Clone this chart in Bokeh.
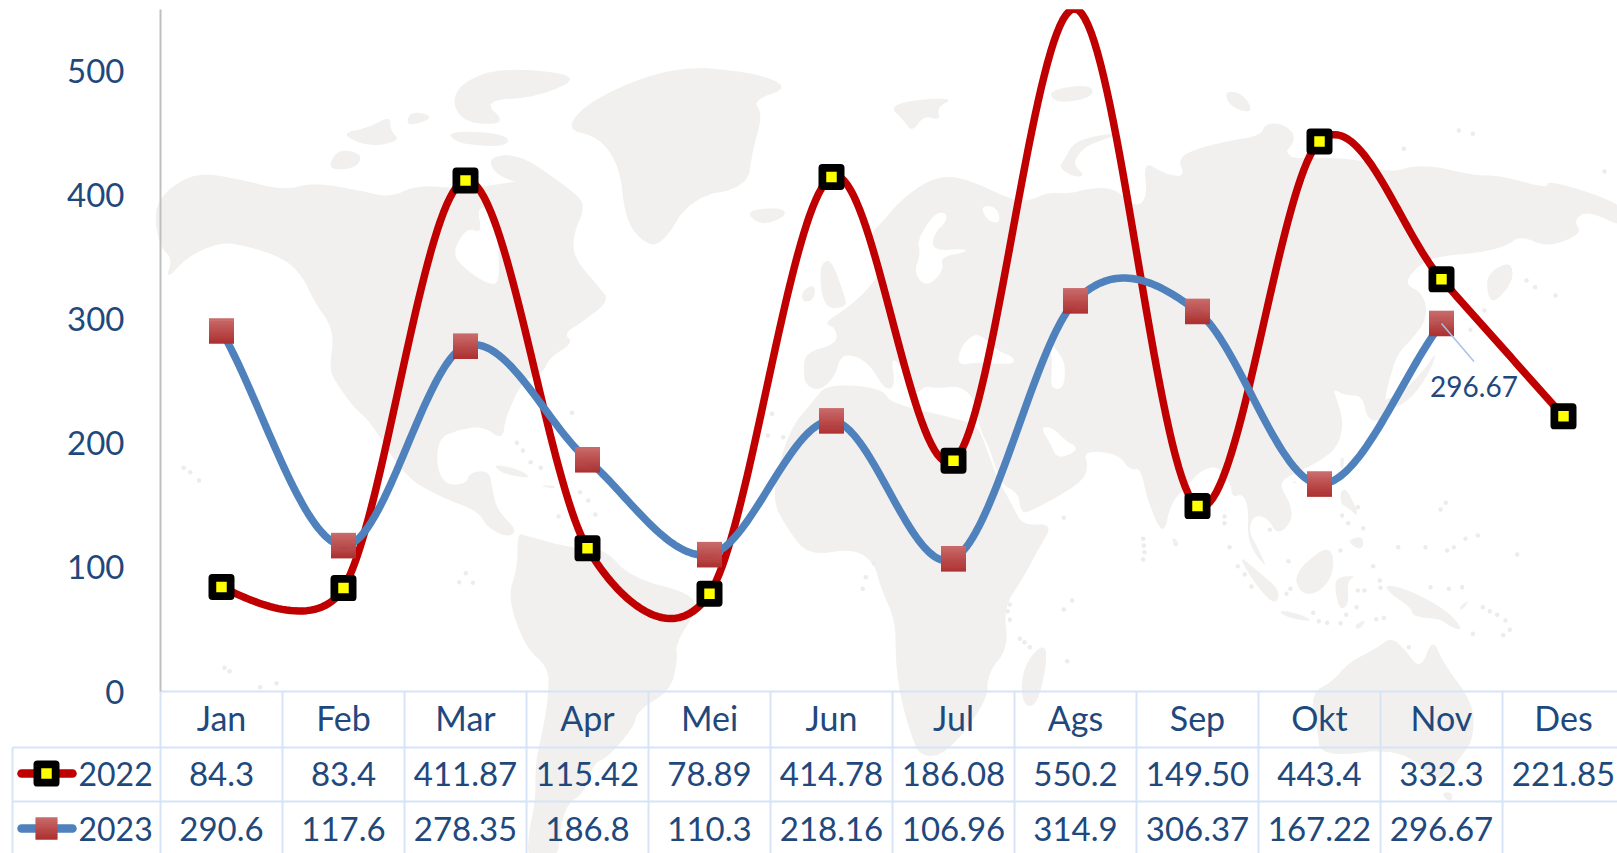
import numpy as np
from bokeh.embed import file_html
from bokeh.resources import INLINE
from bokeh.plotting import figure
from bokeh.core.properties import value
from bokeh.models import Range1d, LinearAxis, FixedTicker

# ---------- data ----------
months = ["Jan", "Feb", "Mar", "Apr", "Mei", "Jun", "Jul", "Ags", "Sep", "Okt", "Nov", "Des"]
values_2022 = [84.3, 83.4, 411.87, 115.42, 78.89, 414.78, 186.08, 550.2, 149.50, 443.4, 332.3, 221.85]
values_2023 = [290.6, 117.6, 278.35, 186.8, 110.3, 218.16, 106.96, 314.9, 306.37, 167.22, 296.67]
labels_2022 = ["84.3", "83.4", "411.87", "115.42", "78.89", "414.78", "186.08", "550.2", "149.50", "443.4", "332.3", "221.85"]
labels_2023 = ["290.6", "117.6", "278.35", "186.8", "110.3", "218.16", "106.96", "314.9", "306.37", "167.22", "296.67"]
y_ticks = [0, 100, 200, 300, 400, 500]
axis_max = 550
callout_index = 10

# ---------- layout ----------
W, H = 1617, 853
X0, COL = 160, 122       # table/plot left edge, column width
Y0, SCALE = 691, 1.2405  # pixel row of value 0, pixels per unit
ROW1, ROW2, ROW_TXT1, ROW_TXT2 = 747, 801, 773, 828
TXT = "#1F497D"
GRID = "#D6E4F5"
LAND = "#F1F0EE"
FONT = "Lato"

p = figure(width=W, height=H, output_backend="svg", toolbar_location=None,
           x_range=Range1d(-X0 / COL, (W - X0) / COL),
           y_range=Range1d((Y0 - H) / SCALE, Y0 / SCALE),
           x_axis_location=None, y_axis_location=None, min_border=0,
           outline_line_color=None, background_fill_color="white", border_fill_color="white")
p.grid.visible = False
p.extra_x_ranges["px"] = Range1d(0, W)
p.extra_y_ranges["py"] = Range1d(H, 0)
PX = dict(x_range_name="px", y_range_name="py")


# ---------- decorative world map (page pixels) ----------
def z(x0, y0, sx, sy, pts):
    return [(x0 + a / sx, y0 + b / sy) for a, b in pts]


def rounded(pts, passes=2):
    # corner cutting, so the coastlines do not look like straight cuts
    pts = np.array(pts, dtype=float)
    for _ in range(passes):
        nxt = np.roll(pts, -1, axis=0)
        pts = np.column_stack([0.75 * pts + 0.25 * nxt, 0.25 * pts + 0.75 * nxt]).reshape(-1, 2)
    return pts


land = [
    # North America
    [(153,213),(165,190),(196,172),(237,178),(283,190),(313,182),(359,190),(390,197),(415,185),(451,187),(477,187),
     (507,182),(548,178),(563,192),(586,203),(573,233),(573,257),(599,287),(609,300),(584,320),(563,333),(573,342),
     (548,358),(543,372),(522,380),(505,417),(502,440),(482,425),(456,430),(438,438),(436,467),(446,485),(466,483),
     (469,472),(489,470),(492,490),(497,510),(517,530),(507,537),(487,527),(477,510),(441,497),(405,477),(369,420),
     (354,408),(334,380),(329,367),(334,330),(313,300),(303,277),(283,257),(237,243),(216,243),(186,257),(165,280),
     (172,258),(160,247)],
    # South America
    [(517,533),(525,535),(573,548),(604,548),(630,577),(691,593),(696,610),(675,643),(677,660),(670,690),(637,710),
     (633,727),(607,757),(593,763),(583,793),(567,803),(560,827),(557,860),(527,860),(528,833),(535,800),(535,760),
     (543,727),(548,693),(548,667),(525,647),(507,597),(517,567)],
    # Africa
    [(813,400),(788,430),(770,497),(788,530),(808,555),(854,548),(874,563),(880,587),(895,620),(895,660),(900,697),
     (910,733),(920,757),(947,753),(987,700),(987,673),(1008,647),(1003,607),(1023,577),(1037,550),(1053,523),
     (1022,525),(1012,505),(997,478),(985,445),(977,425),(956,418),(891,403),(883,390),(860,385),(825,385)],
    # Eurasia
    [(803,370),(805,352),(837,343),(835,327),(823,323),(847,307),(863,293),(880,273),(870,257),(870,233),(883,220),
     (900,200),(927,180),(950,175),(977,183),(1013,200),(1030,200),(1047,192),(1070,193),(1087,188),(1113,187),
     (1135,207),(1147,197),(1143,160),(1163,173),(1185,177),(1177,157),(1200,147),(1230,140),(1260,135),(1265,123),
     (1283,123),(1297,137),(1280,158),(1357,157),(1387,173),(1422,163),(1473,175),(1500,175),(1547,188),(1547,180),
     (1590,192),(1625,207),(1625,228),(1587,210),(1573,220),(1582,233),(1547,247),(1520,235),(1507,245),(1480,252),
     (1443,255),(1420,263),(1403,283),(1423,293),(1427,317),(1413,337),(1397,353),(1390,375),(1385,395),(1383,420),
     (1367,420),(1362,395),(1345,395),(1332,388),(1337,400),(1343,423),(1337,447),(1317,462),(1293,473),(1278,483),
     (1290,503),(1292,520),(1277,535),(1267,517),(1253,515),(1248,530),(1257,547),(1268,570),(1247,543),(1248,507),
     (1242,493),(1232,497),(1230,483),(1217,465),(1200,470),(1185,487),(1170,503),(1163,537),(1147,500),(1140,467),
     (1130,470),(1117,453),(1083,450),(1088,467),(1080,483),(1027,513),(1020,510),(1018,493),(1000,483),(990,450),
     (978,425),(975,400),(960,385),(935,388),(925,385),(915,395),(905,370),(890,355),(895,385),(885,390),(870,365),
     (855,355),(840,355),(835,375),(820,390),(805,385)],
    # Madagascar, Tasmania, Australia
    [(1045,642),(1046,665),(1037,703),(1025,707),(1020,687),(1026,660)],
    [(1440,792),(1453,792),(1450,803)],
    [(1432,637),(1443,663),(1473,703),(1473,737),(1463,753),(1437,787),(1403,747),(1320,757),(1317,730),(1310,693),
     (1333,680),(1347,663),(1377,647),(1390,637),(1403,647),(1420,670)],
]
# Greenland and arctic Canada
for pts in [
    [(810,385),(870,290),(1030,195),(1180,215),(1255,260),(1180,300),(1200,340),(1180,450),(1170,560),(1060,590),
     (1000,740),(960,720),(930,650),(920,500),(880,410)],
    [(610,245),(690,200),(850,225),(760,290),(650,300),(700,370),(620,370),(590,310)],
    [(660,470),(720,460),(800,540),(855,610),(830,640),(760,560),(680,530)],
    [(350,490),(370,445),(415,460),(405,500),(360,510)],
    [(370,400),(430,380),(470,345),(470,390),(490,420),(430,440)],
    [(510,330),(560,350),(500,380)],
    [(580,390),(700,400),(700,440),(600,430)],
    [(1165,630),(1240,620),(1245,650),(1195,675)],
]:
    land.append(z(150, 0, 1.96, 3, pts))
# Caribbean
for pts in [[(670,250),(720,265),(750,295),(690,280)], [(760,315),(795,315),(790,325)]]:
    land.append(z(150, 380, 1.96, 3, pts))
# Britain, Ireland, arctic Russia
for pts in [
    [(115,620),(150,590),(190,700),(200,740),(130,745)],
    [(65,690),(105,670),(100,720),(65,725)],
    [(325,135),(430,115),(520,115),(470,140),(480,180),(430,165),(395,215),(370,180)],
    [(800,90),(930,70),(940,110),(830,130)],
    [(1330,90),(1390,100),(1420,160),(1350,140)],
    [(1035,215),(950,225),(880,245),(850,300),(835,320),(880,350),(915,345),(875,310),(910,260),(960,240)],
]:
    land.append(z(780, 60, 3, 3, pts))
# Sakhalin
land.append(z(1240, 60, 3, 3, [(740,640),(810,600),(820,660),(760,730),(740,700)]))
# Japan
land.append(z(1300, 240, 3, 3, [(225,490),(300,460),(370,390),(410,330),(390,390),(330,480),(240,520)]))
# South-East Asia
for pts in [
    [(710,520),(770,570),(840,630),(825,675),(770,620)],
    [(880,580),(970,500),(1000,520),(995,590),(950,640),(900,640)],
    [(835,690),(880,695),(940,720),(900,720),(850,705)],
    [(1020,330),(1040,325),(1080,415),(1040,380),(1020,370)],
    [(1040,480),(1085,465),(1090,500),(1070,505)],
    [(1005,590),(1070,585),(1040,600),(1045,670),(1020,690),(1005,640)],
    [(1150,610),(1230,630),(1340,690),(1390,750),(1350,740),(1320,715),(1240,710),(1230,680),(1170,640)],
    [(515,470),(530,480),(535,495),(520,500)],
    [(1020,230),(1030,230),(1030,260),(1020,265)],
    [(875,300),(890,305),(880,310)],
    [(1060,735),(1100,715),(1075,750)],
    [(1375,680),(1410,655),(1385,690)],
]:
    land.append(z(1000, 380, 3, 3, pts))

seas = [
    z(150, 0, 1.96, 3, [(590,760),(620,680),(650,700),(640,620),(665,625),(680,700),(685,850),(660,850),(620,810)]),
    z(780, 60, 3, 3, [(540,860),(580,820),(610,830),(650,870),(700,890),(700,910),(640,910),(590,905),(530,915)]),
    z(780, 60, 3, 3, [(810,850),(830,870),(855,910),(850,985),(810,985),(815,920)]),
    z(780, 60, 3, 3, [(460,460),(495,455),(500,480),(460,520),(455,570),(555,565),(555,575),(480,590),(490,630),
                      (440,680),(400,640),(420,580),(410,540)]),
    z(780, 60, 3, 3, [(600,435),(650,440),(660,490),(620,480)]),
    z(1000, 380, 3, 3, [(120,140),(155,140),(200,185),(225,195),(225,215),(170,235),(150,190)]),
    z(1240, 60, 3, 3, [(120,295),(200,265),(340,265),(350,290)]),
    z(1240, 60, 3, 3, [(490,670),(540,610),(600,585),(570,620),(550,690)]),
]
dots = z(1000, 380, 3, 3, [(428,475),(430,495),(432,515),(428,537),(672,408),(672,428),(687,500),(712,557),(733,582),
                           (753,618),(864,542),(870,625),(858,640),(1072,380),(1025,405),(1043,428),(1088,443),
                           (1020,510),(1118,557),(1138,600),(1140,622),(1092,630),(1072,630),(1068,680),(1150,712),
                           (1127,716),(1020,728),(955,722),(980,727),(1037,703),(938,697),(1193,500),(1275,500),
                           (1340,510),(1360,500),(1395,475),(1432,465),(1336,367),(1320,387),(1290,620),(1345,625),
                           (1385,620),(1447,680),(1468,692),(1490,703),(1515,720),(1528,748),(1508,764),(1417,760),
                           (1225,800),(200,842),(58,775),(72,785),(88,800),(28,672),(22,692),(28,718),(190,687),
                           (215,660),(190,412),(808,448),(1550,522)])
dots += z(150, 380, 1.96, 3, [(65,262),(78,275),(95,300),(145,862),(155,872),(215,920),(247,908),(618,578),(605,605),
                              (632,607),(826,97),(718,187),(730,210),(745,245),(765,262),(842,335),(858,360),(872,402),
                              (800,408),(1218,100),(1210,165),(1240,170),(1418,548),(1402,590),(1396,625)])
dots += z(1240, 60, 3, 3, [(858,660),(884,680),(945,705),(732,750),(690,808),(655,210),(697,220),(1092,333),(490,265)])

land_r = [rounded(s) for s in land]
seas_r = [rounded(s) for s in seas]
p.patches([s[:, 0] for s in land_r], [s[:, 1] for s in land_r], fill_color=LAND, line_color=None, **PX)
p.patches([s[:, 0] for s in seas_r], [s[:, 1] for s in seas_r], fill_color="white", line_color=None, **PX)
p.scatter([a for a, _ in dots], [b for _, b in dots], marker="circle", size=4.5, fill_color="#EDECEA",
          line_color=None, **PX)

# ---------- table grid ----------
grid_x0 = [X0, 12, 12]
grid_y0 = [Y0, ROW1, ROW2]
p.segment(grid_x0, grid_y0, [W, W, W], grid_y0, line_color=GRID, line_width=2, **PX)
vx = [X0 + COL * k for k in range(12)] + [12]
vy0 = [Y0] * 12 + [ROW1]
p.segment(vx, vy0, vx, [H] * 13, line_color=GRID, line_width=2, **PX)


# ---------- smoothed lines (spreadsheet-style bezier through the values) ----------
def smooth(vals):
    pts = np.array([[(i + 0.5) * COL, v * SCALE] for i, v in enumerate(vals)], dtype=float)
    n = len(pts)
    out = []
    for i in range(n - 1):
        a, b = pts[i], pts[i + 1]
        o = pts[max(i - 1, 0)]
        c = pts[min(i + 2, n - 1)]
        d02, d12, d13 = np.hypot(*(b - o)), np.hypot(*(b - a)), np.hypot(*(c - a))
        first, last = i == 0, i == n - 2
        if d02 / 6 < d12 / 2 and d13 / 6 < d12 / 2:
            f1 = 1 / 3 if first else 1 / 6
            f2 = 1 / 3 if last else 1 / 6
        elif d02 / 6 >= d12 / 2 and d13 / 6 >= d12 / 2:
            f1, f2 = d12 / 2 / d02, d12 / 2 / d13
        elif d02 / 6 >= d12 / 2:
            f1 = d12 / 2 / d02
            f2 = d12 / 2 / d13 * (d13 / d02)
        else:
            f1 = d12 / 2 / d13 * (d02 / d13)
            f2 = d12 / 2 / d13
        c1, c2 = a + (b - o) * f1, b - (c - a) * f2
        t = np.linspace(0, 1, 40)[:, None]
        out.append((1 - t) ** 3 * a + 3 * (1 - t) ** 2 * t * c1 + 3 * (1 - t) * t ** 2 * c2 + t ** 3 * b)
    s = np.vstack(out)
    return s[:, 0] / COL, s[:, 1] / SCALE


RED, BLUE = "#C00000", "#4F81BD"
LW = 7.5
sx, sy = smooth(values_2022)
p.line(sx, sy, line_color=RED, line_width=LW, line_join="round", line_cap="round")
sx, sy = smooth(values_2023)
p.line(sx, sy, line_color=BLUE, line_width=LW, line_join="round", line_cap="round")

# nothing of the plot shows above the axis maximum
p.quad(left=[X0 - 3], right=[W], top=[-5], bottom=[Y0 - axis_max * SCALE], fill_color="white", line_color=None, **PX)


# ---------- markers ----------
def black_yellow(x, y, **kw):
    p.scatter(x, y, marker="square", size=18.25, fill_color="#FFFF00", line_color="black", line_width=7.75,
              line_join="round", **kw)


def gradient_square(x, y, side):
    n = 13
    c_top, c_bot = np.array([201, 106, 106]), np.array([174, 50, 50])
    xs, ys, cols = [], [], []
    for k in range(n):
        c = c_top + (c_bot - c_top) * k / (n - 1)
        off = (n / 2 - k - 0.5) * side / n
        xs += list(x)
        ys += list(np.asarray(y, dtype=float) - off)
        cols += ["#%02X%02X%02X" % tuple(int(round(v)) for v in c)] * len(x)
    return xs, ys, cols


idx = [i for i, v in enumerate(values_2022) if v <= axis_max]
black_yellow([i + 0.5 for i in idx], [values_2022[i] for i in idx])

gpx = [X0 + COL * (i + 0.5) for i in range(len(values_2023))]
gpy = [Y0 - v * SCALE for v in values_2023]
xs, ys, cols = gradient_square(gpx, gpy, 25)
p.rect(x=xs, y=ys, width=25, height=25 / 13 + 0.6, width_units="screen", height_units="screen",
       fill_color=cols, line_color=None, **PX)

# ---------- callout ----------
cx = X0 + COL * (callout_index + 0.5)
cy = Y0 - values_2023[callout_index] * SCALE
p.segment([cx], [cy], [cx + 32.5], [cy + 38], line_color="#A6C2E4", line_width=1.5, **PX)
p.text([cx + 32.5], [cy + 63], text=[labels_2023[callout_index]], text_font=value(FONT), text_font_size="28px",
       text_color=TXT, text_align="center", text_baseline="middle", **PX)


# ---------- table text ----------
def row(labels, py):
    p.text([i + 0.5 for i in range(len(labels))], [py] * len(labels), text=labels, text_font=value(FONT),
           text_font_size="33px", text_color=TXT, text_align="center", text_baseline="middle", y_range_name="py")


row(labels_2022, ROW_TXT1)
row(labels_2023, ROW_TXT2)

# ---------- legend cells ----------
LEG_LW = 8.5
p.line([21, 72], [ROW_TXT1, ROW_TXT1], line_color=RED, line_width=LEG_LW, line_cap="round", **PX)
black_yellow([46], [ROW_TXT1], **PX)
p.line([21, 72], [ROW_TXT2, ROW_TXT2], line_color=BLUE, line_width=LEG_LW, line_cap="round", **PX)
xs, ys, cols = gradient_square([46], [ROW_TXT2], 22)
p.rect(x=xs, y=ys, width=22, height=22 / 13 + 0.6, width_units="screen", height_units="screen",
       fill_color=cols, line_color=None, **PX)
p.text([78, 78], [ROW_TXT1, ROW_TXT2], text=["2022", "2023"], text_font=value(FONT), text_font_size="32px",
       text_color=TXT, text_align="left", text_baseline="middle", **PX)

# ---------- axes ----------
yaxis = LinearAxis(fixed_location=0, ticker=FixedTicker(ticks=y_ticks), bounds=(0, axis_max),
                   axis_line_color="#BFBFBF", axis_line_width=2, major_tick_line_color=None,
                   minor_tick_line_color=None, major_label_standoff=30,
                   major_label_text_font=FONT, major_label_text_font_size="33px", major_label_text_color=TXT)
p.add_layout(yaxis, "left")
xaxis = LinearAxis(fixed_location=0, ticker=FixedTicker(ticks=[i + 0.5 for i in range(12)]),
                   major_label_overrides={i + 0.5: m for i, m in enumerate(months)},
                   axis_line_color=None, major_tick_line_color=None, minor_tick_line_color=None,
                   major_label_standoff=-1, major_label_text_font=FONT, major_label_text_font_size="34px",
                   major_label_text_color=TXT)
p.add_layout(xaxis, "below")

open("out.html", "w").write(file_html(p, INLINE))
